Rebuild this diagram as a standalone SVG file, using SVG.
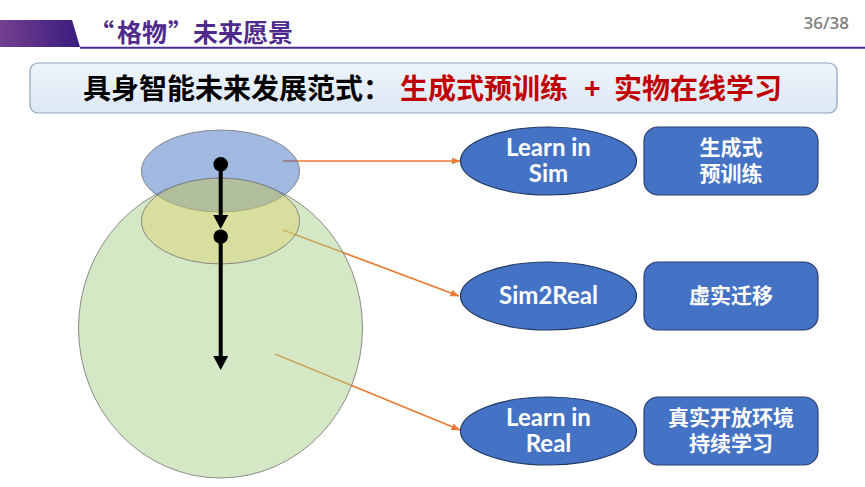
<svg xmlns="http://www.w3.org/2000/svg" width="865" height="487" viewBox="0 0 865 487">
  <defs>
    <linearGradient id="hdrGrad" x1="0" y1="0" x2="1" y2="0">
      <stop offset="0" stop-color="#74408F"/>
      <stop offset="1" stop-color="#3A1B7E"/>
    </linearGradient>
    <linearGradient id="bannerGrad" x1="0" y1="0" x2="0" y2="1">
      <stop offset="0" stop-color="#EEF4FB"/>
      <stop offset="1" stop-color="#DCE8F5"/>
    </linearGradient>
    <marker id="orangeArrow" markerUnits="userSpaceOnUse" markerWidth="9" markerHeight="7" refX="8.5" refY="3.5" orient="auto">
      <path d="M0,0 L9,3.5 L0,7 z" fill="#E97A30"/>
    </marker>
    <marker id="blackArrow" markerUnits="userSpaceOnUse" markerWidth="16" markerHeight="16" refX="3" refY="7.5" orient="auto">
      <path d="M0,0 L14,7.5 L0,15 z" fill="#000"/>
    </marker>
  </defs>
  <style>
    .cjk { font-family: "Noto Sans CJK SC", "Noto Sans", sans-serif; font-weight: bold; }
    .lat { font-family: Lato, "Open Sans", "Liberation Sans", sans-serif; font-weight: bold; }
    .nodeText { fill: #FFFFFF; text-anchor: middle; }
    .ell { fill: #4472C4; stroke: #1F3864; stroke-width: 1.2; }
    .box { fill: #4472C4; stroke: #2F3F6F; stroke-width: 1.2; }
    .conn { stroke: #E97A30; stroke-width: 1.7; fill: none; marker-end: url(#orangeArrow); }
    .blk { stroke: #000; stroke-width: 4; marker-end: url(#blackArrow); }
    .area { stroke: #7F7F7F; stroke-width: 0.9; }
  </style>
  <rect width="865" height="487" fill="#FFFFFF"/>

  <!-- header -->
  <g id="header">
    <polygon points="0,20 72,20 80,47 0,47" fill="url(#hdrGrad)"/>
    <line x1="80" y1="47.8" x2="865" y2="47.8" stroke="#4B2A8A" stroke-width="2"/>
    <text class="cjk" font-size="25" fill="#4F2A8C" y="42">
      <tspan x="89">“</tspan><tspan x="117">格物</tspan><tspan x="168">”</tspan><tspan x="193">未来愿景</tspan>
    </text>
    <text x="849" y="29" font-family="'Open Sans', 'Liberation Sans', sans-serif" font-weight="600" font-size="17" fill="#7F7F7F" text-anchor="end">36/38</text>
  </g>

  <!-- banner -->
  <g id="banner">
    <rect x="30" y="63" width="807" height="50" rx="8" fill="url(#bannerGrad)" stroke="#8FA3BC" stroke-width="1.2"/>
    <text class="cjk" font-size="28" y="99">
      <tspan x="83" fill="#000000">具身智能未来发展范式：</tspan><tspan x="400" fill="#C00000">生成式预训练</tspan><tspan x="584" fill="#C00000">+</tspan><tspan x="614" fill="#C00000">实物在线学习</tspan>
    </text>
  </g>

  <!-- connectors (beneath translucent areas) -->
  <g id="connectors">
    <line class="conn" x1="283" y1="161" x2="460" y2="161"/>
    <line class="conn" x1="283" y1="230" x2="459" y2="296"/>
    <line class="conn" x1="275" y1="354" x2="460" y2="430"/>
  </g>

  <!-- translucent areas -->
  <g id="real-area">
    <ellipse class="area" cx="220.5" cy="328" rx="142" ry="150" fill="#A9D18E" fill-opacity="0.5"/>
  </g>
  <g id="sim-area">
    <ellipse class="area" cx="220.5" cy="171" rx="79" ry="41" fill="#4472C4" fill-opacity="0.5"/>
  </g>
  <g id="sim2real-area">
    <ellipse class="area" cx="220.5" cy="221" rx="79" ry="43" fill="#DBD26D" fill-opacity="0.45"/>
  </g>

  <!-- black path -->
  <g id="trajectory">
    <line class="blk" x1="220.7" y1="164" x2="220.7" y2="218"/>
    <line class="blk" x1="220.7" y1="237" x2="220.7" y2="359"/>
    <circle cx="220.7" cy="164.3" r="7.3" fill="#000"/>
    <circle cx="220.7" cy="236.7" r="7.2" fill="#000"/>
  </g>

  <!-- nodes -->
  <g id="learn-in-sim">
    <ellipse class="ell" cx="548.5" cy="161" rx="88" ry="34"/>
    <text class="lat nodeText" font-size="24"><tspan x="548.5" y="155.5">Learn in</tspan><tspan x="548.5" y="181.5">Sim</tspan></text>
  </g>
  <g id="gen-pretrain">
    <rect class="box" x="644" y="127" width="174" height="68" rx="14"/>
    <text class="cjk nodeText" font-size="21"><tspan x="731" y="155">生成式</tspan><tspan x="731" y="181">预训练</tspan></text>
  </g>

  <g id="sim2real">
    <ellipse class="ell" cx="548.5" cy="296" rx="88" ry="34"/>
    <text class="lat nodeText" font-size="24" x="548.5" y="303.5">Sim2Real</text>
  </g>
  <g id="virtual-real-transfer">
    <rect class="box" x="644" y="262" width="174" height="68" rx="14"/>
    <text class="cjk nodeText" font-size="21" x="731" y="303">虚实迁移</text>
  </g>

  <g id="learn-in-real">
    <ellipse class="ell" cx="548.5" cy="431" rx="88" ry="34"/>
    <text class="lat nodeText" font-size="24"><tspan x="548.5" y="425.5">Learn in</tspan><tspan x="548.5" y="451.5">Real</tspan></text>
  </g>
  <g id="open-env-learning">
    <rect class="box" x="644" y="397" width="174" height="68" rx="14"/>
    <text class="cjk nodeText" font-size="21"><tspan x="731" y="425">真实开放环境</tspan><tspan x="731" y="451">持续学习</tspan></text>
  </g>
</svg>
